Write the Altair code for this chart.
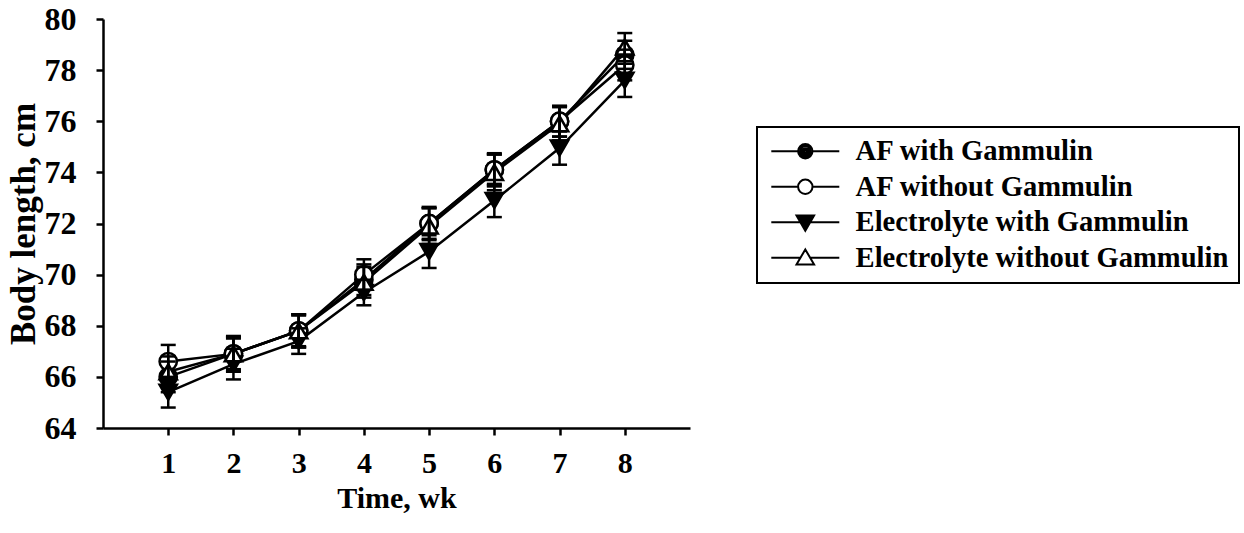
import altair as alt
import pandas as pd

weeks = [1, 2, 3, 4, 5, 6, 7, 8]
series_names = ["AF with Gammulin", "AF without Gammulin",
                "Electrolyte with Gammulin", "Electrolyte without Gammulin"]

af_with = [66.0, 66.9, 67.8, 69.8, 72.0, 74.1, 76.0, 78.6]
af_without = [66.6, 66.9, 67.8, 70.0, 72.0, 74.1, 76.0, 78.2]
el_with = [65.4, 66.5, 67.4, 69.3, 70.9, 72.9, 74.95, 77.6]
el_without = [66.2, 66.9, 67.8, 69.7, 71.9, 74.0, 75.9, 78.9]

af_with_err = [0.6, 0.6, 0.6, 0.6, 0.6, 0.6, 0.6, 0.55]
af_without_err = [0.65, 0.65, 0.65, 0.6, 0.65, 0.65, 0.6, 0.6]
el_with_err = [0.6, 0.6, 0.5, 0.5, 0.64, 0.65, 0.65, 0.65]
el_without_err = [0.6, 0.7, 0.65, 0.6, 0.7, 0.7, 0.65, 0.55]

values = [af_with, af_without, el_with, el_without]
errors = [af_with_err, af_without_err, el_with_err, el_without_err]

rows = []
for name, vals, errs in zip(series_names, values, errors):
    for w, v, e in zip(weeks, vals, errs):
        rows.append({"week": w, "series": name, "value": v,
                     "lo": v - e, "hi": v + e})
df = pd.DataFrame(rows)

FONT = "Liberation Serif"

x_enc = alt.X("week:Q", scale=alt.Scale(domain=[0, 9], nice=False),
              axis=alt.Axis(values=weeks, title="Time, wk", format="d"))
y_enc = alt.Y("value:Q", scale=alt.Scale(domain=[64, 80], nice=False, zero=False),
              axis=alt.Axis(values=list(range(64, 81, 2)), title="Body length, cm"))

base = alt.Chart(df)

lines = base.mark_line(color="black", strokeWidth=2.5).encode(
    x=x_enc, y=y_enc, detail="series:N", order="week:Q")

markers = base.mark_point(stroke="black", strokeWidth=2.5, opacity=1).encode(
    x="week:Q", y="value:Q",
    shape=alt.Shape("series:N", scale=alt.Scale(
        domain=series_names,
        range=["circle", "circle", "triangle-down", "triangle-up"]), legend=None),
    fill=alt.Fill("series:N", scale=alt.Scale(
        domain=series_names, range=["black", "white", "black", "white"]), legend=None),
    size=alt.Size("series:N", scale=alt.Scale(
        domain=series_names, range=[300, 300, 430, 430]), legend=None),
)

rules = base.mark_rule(color="black", strokeWidth=2.5).encode(
    x="week:Q", y="lo:Q", y2="hi:Q")
caps_hi = base.mark_tick(color="black", thickness=2.5, size=15,
                         orient="horizontal", opacity=1).encode(x="week:Q", y="hi:Q")
caps_lo = base.mark_tick(color="black", thickness=2.5, size=15,
                         orient="horizontal", opacity=1).encode(x="week:Q", y="lo:Q")


# ---- legend symbol glyphs (line + marker), in units of 8 px ----
def ring(r):
    return f"M{r:.3f},0A{r:.3f},{r:.3f},0,1,1,{-r:.3f},0A{r:.3f},{r:.3f},0,1,1,{r:.3f},0Z"


def tri(pts, k, cy):
    p = [(x * k, cy + (y - cy) * k) for x, y in pts]
    return "M" + "L".join(f"{x:.3f},{y:.3f}" for x, y in p) + "Z"


R = 0.9
seg_circle = f"M-4.25,0L{-R},0M{R},0L4.25,0"
seg_tri = "M-4.25,0L-0.61,0M0.61,0L4.25,0"
tri_down = [(-1.1, -0.85), (1.1, -0.85), (0.0, 1.05)]
tri_up = [(0.0, -1.05), (1.1, 0.85), (-1.1, 0.85)]

filled_circle = seg_circle + "".join(ring(R * f) for f in (1, 0.72, 0.44, 0.17, 0.05))
open_circle = seg_circle + ring(R)
filled_tri = seg_tri + "".join(tri(tri_down, k, -0.216) for k in (1, 0.65, 0.3, 0.05))
open_tri = seg_tri + tri(tri_up, 1, 0.216)
legend_paths = [filled_circle, open_circle, filled_tri, open_tri]

leg = alt.Legend(
    title=None, orient="none", legendX=654, legendY=108,
    symbolSize=256, symbolStrokeColor="black", symbolStrokeWidth=2,
    symbolFillColor="transparent",
    symbolOpacity=1, symbolOffset=24, labelFont=FONT, labelFontWeight="bold",
    labelFontSize=28.6, labelColor="black", labelLimit=0, labelOffset=36,
    rowPadding=6.5, padding=10, strokeColor="black",
)

# legend-only layer: no data rows survive the filter, the legend comes from the scale
legend_layer = base.transform_filter("false").mark_point(
    opacity=1, strokeWidth=2, stroke="black", filled=False).encode(
    x="week:Q", y="value:Q",
    shape=alt.Shape("series:N", scale=alt.Scale(domain=series_names, range=legend_paths),
                    legend=leg),
)

chart = alt.layer(lines, markers, rules, caps_hi, caps_lo, legend_layer).resolve_scale(
    shape="independent"
).properties(
    width=587, height=409,
    padding={"left": 103, "top": 19, "right": 554, "bottom": 105},
    autosize=alt.AutoSizeParams(type="none"),
).configure_view(stroke=None).configure_axis(
    grid=False, domainColor="black", domainWidth=2.5, tickColor="black",
    tickWidth=2.5, tickSize=7, labelFont=FONT, labelFontWeight="bold",
    labelFontSize=30, labelColor="black", titleFont=FONT, titleFontWeight="bold",
    titleFontSize=30, titleColor="black",
).configure_axisX(labelPadding=13, titlePadding=5).configure_axisY(
    labelPadding=20, titlePadding=3, titleFontSize=35, labelFontSize=32
).configure_legend(strokeWidth=2)

chart.save("out.html", embed_options={"renderer": "svg", "actions": False})
